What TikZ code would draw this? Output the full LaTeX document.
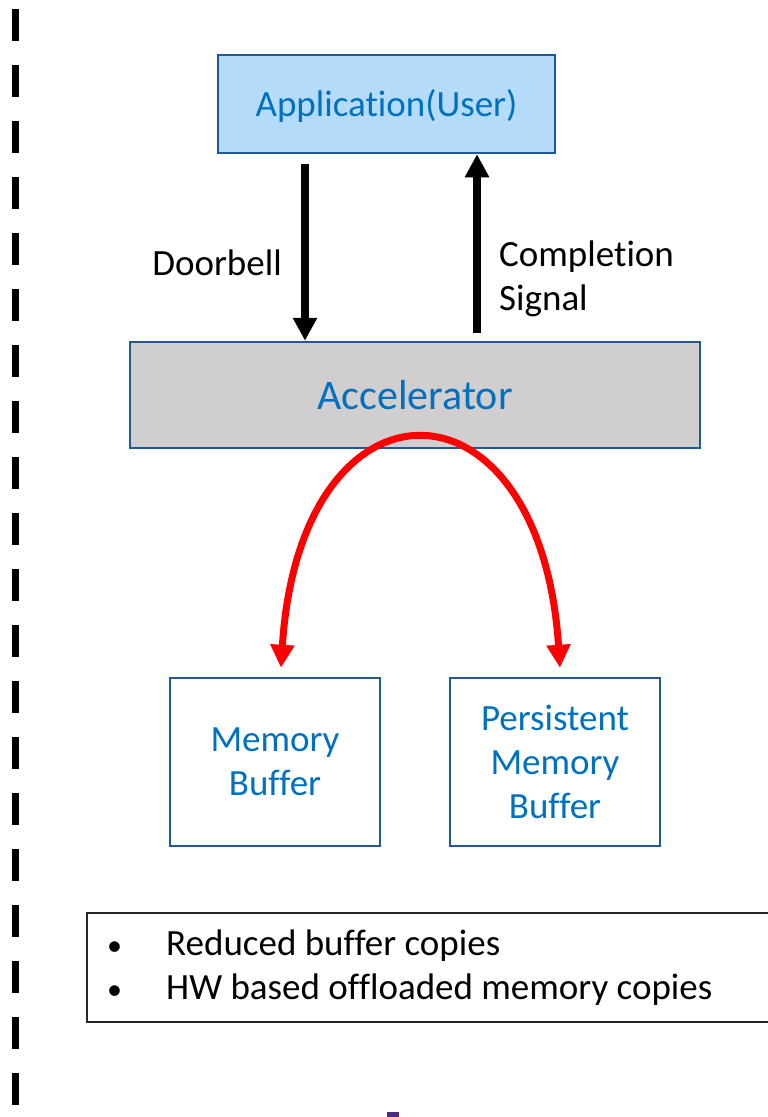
\documentclass[tikz,border=0pt]{standalone}
\usepackage{fontspec}
\setmainfont[Ligatures=NoCommon]{Carlito}
\usetikzlibrary{arrows.meta,calc}
\definecolor{txtblue}{HTML}{0070C0}
\definecolor{edgeblue}{HTML}{1F5A96}
\definecolor{appfill}{HTML}{B4DCFA}
\definecolor{accfill}{HTML}{D0CECE}
\definecolor{logopurple}{HTML}{4B2C7F}
\begin{document}
\begin{tikzpicture}[x=1pt,y=-1pt,
  >={Triangle[width=23pt,length=23pt]},
  box/.style={draw=edgeblue, line width=2.5pt, inner sep=0pt, text=txtblue,
    align=center, font=\fontsize{37}{44}\selectfont},
  lbl/.style={inner sep=0pt, align=left, font=\fontsize{37}{44}\selectfont},
  sig/.style={line width=8pt, ->},
  copyarc/.style={draw=red, line width=7pt, <->}]
\useasboundingbox (0,0) rectangle (768,1117);
\clip (0,0) rectangle (768,1117);

% dashed separator on the left
\draw[line width=7.5pt, dash pattern=on 32pt off 24pt] (15.5,9) -- (15.5,1120);

% blocks
\node[box, fill=appfill, minimum width=337pt, minimum height=98pt,
      text depth=0pt, text height=0pt] (app) at (386.5,104) {};
\node[text=txtblue, inner sep=0pt, font=\fontsize{37}{44}\selectfont]
      (apptxt) at ($(app.center)+(0,2)$) {Application(User)};
\node[box, fill=accfill, minimum width=570pt, minimum height=106pt,
      font=\fontsize{42}{50}\selectfont] (acc) at (415,395) {Accelerator};
\node[box, minimum width=210pt, minimum height=168pt] (mem) at (275,762) {Memory\\Buffer};
\node[box, minimum width=210pt, minimum height=168pt] (pmem) at (555,762) {Persistent\\Memory\\Buffer};

% doorbell and completion signals
\coordinate (dbx) at (305,0);
\coordinate (csx) at (477,0);
\draw[sig] ($(app.south -| dbx)+(0,10)$) -- (acc.north -| dbx);
\draw[sig] ($(acc.north -| csx)+(0,-8)$) -- (app.south -| csx);
\node[lbl, anchor=east] (doorbell) at (282,263) {Doorbell};
\node[lbl, anchor=west] (compl) at (499,279) {Completion\\Signal};

% data copies from the accelerator to both buffers
\coordinate (ltip) at ($(mem.north)+(6,-9)$);
\coordinate (rtip) at ($(pmem.north)+(5,-9)$);
\draw[copyarc] (ltip) .. controls (300,365) and (540,365) .. (rtip);

% notes
\node[draw=black!85, line width=1.5pt, minimum width=700pt, minimum height=109pt,
      inner sep=0pt, anchor=north west] (notes) at (86,912) {};
\node[lbl, anchor=west] (items) at (107,968)
  {\makebox[59pt][l]{\fontsize{30}{44}\selectfont •}Reduced buffer copies\\
   \makebox[59pt][l]{\fontsize{30}{44}\selectfont •}HW based offloaded memory copies};

% cut-off logo fragment at the lower edge
\fill[logopurple] (387,1112) rectangle (399,1120);
\end{tikzpicture}
\end{document}
